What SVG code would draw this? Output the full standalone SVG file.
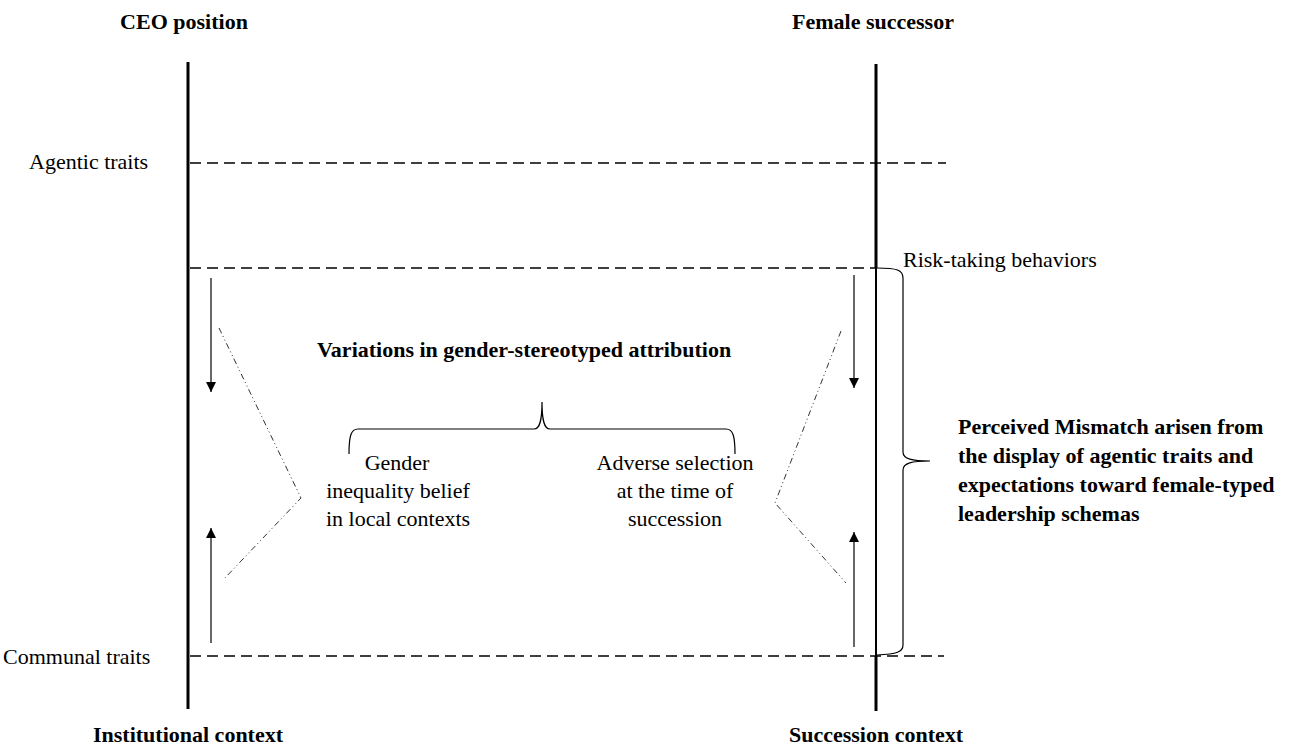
<svg xmlns="http://www.w3.org/2000/svg" width="1290" height="750" viewBox="0 0 1290 750">
<style>
text{font-family:"Liberation Serif","Times New Roman",serif;font-size:22px;fill:#000}
.b{font-weight:bold}
.m{text-anchor:middle}
.axis{stroke:#000;stroke-width:3;fill:none}
.dash{stroke:#000;stroke-width:1.6;stroke-dasharray:11 6;fill:none}
.thin{stroke:#000;stroke-width:1.2;fill:none}
.chev{stroke:#333;stroke-width:1;stroke-dasharray:6 3 1 3 1 3;fill:none}
</style>
<defs>
<marker id="ah" viewBox="0 0 10 12" refX="10" refY="6" markerWidth="10" markerHeight="12" markerUnits="userSpaceOnUse" orient="auto">
<path d="M0,1 L10,6 L0,11 Z" fill="#000"/>
</marker>
</defs>
<rect width="1290" height="750" fill="#fff"/>
<g id="axes">
<line class="axis" x1="188" y1="62" x2="188" y2="709"/>
<line class="axis" x1="876" y1="64" x2="876" y2="268"/>
<line stroke="#000" stroke-width="2" x1="876" y1="268" x2="876" y2="656"/>
<line class="axis" x1="876" y1="656" x2="876" y2="711"/>
</g>
<g id="headers">
<text class="b m" x="184" y="29">CEO position</text>
<text class="b m" x="873" y="29">Female successor</text>
<text class="b m" x="188" y="742">Institutional context</text>
<text class="b m" x="876" y="742">Succession context</text>
</g>
<g id="agentic">
<text x="29" y="169">Agentic traits</text>
<line class="dash" x1="190" y1="163" x2="946" y2="163"/>
</g>
<g id="risk">
<line class="dash" x1="190" y1="268" x2="876" y2="268"/>
<text x="903" y="267">Risk-taking behaviors</text>
</g>
<g id="communal">
<text x="3" y="664">Communal traits</text>
<line class="dash" x1="190" y1="656" x2="944" y2="656"/>
</g>
<g id="variations">
<text class="b" x="317" y="357">Variations in gender-stereotyped attribution</text>
<path class="thin" d="M349,454 C349,436 351,429 358,429 L534,429 C540,429 542,420 542,402 C542,420 544,429 550,429 L726,429 C733,429 735,436 735,454"/>
</g>
<g id="gender">
<text class="m" x="397" y="470">Gender</text>
<text class="m" x="398" y="498">inequality belief</text>
<text class="m" x="398" y="526">in local contexts</text>
</g>
<g id="adverse">
<text class="m" x="675" y="470">Adverse selection</text>
<text class="m" x="675" y="498">at the time of</text>
<text class="m" x="675" y="526">succession</text>
</g>
<g id="mismatch">
<path class="thin" d="M877,268 C897,268 903,270 903,278 L903,452 C903,459 912,461 930,461 C912,461 903,463 903,470 L903,645 C903,652 897,654 877,655"/>
<text class="b" x="958" y="434">Perceived Mismatch arisen from</text>
<text class="b" x="958" y="463">the display of agentic traits and</text>
<text class="b" x="958" y="492">expectations toward female-typed</text>
<text class="b" x="958" y="521">leadership schemas</text>
</g>
<g id="connectors">
<line class="thin" x1="211" y1="278" x2="211" y2="392" marker-end="url(#ah)"/>
<line class="thin" x1="211" y1="643" x2="211" y2="528" marker-end="url(#ah)"/>
<line class="thin" x1="854" y1="275" x2="854" y2="388" marker-end="url(#ah)"/>
<line class="thin" x1="854" y1="647" x2="854" y2="532" marker-end="url(#ah)"/>
<polyline class="chev" points="219,328 301,498 223,580"/>
<polyline class="chev" points="841,331 775,503 846,583"/>
</g>
</svg>
